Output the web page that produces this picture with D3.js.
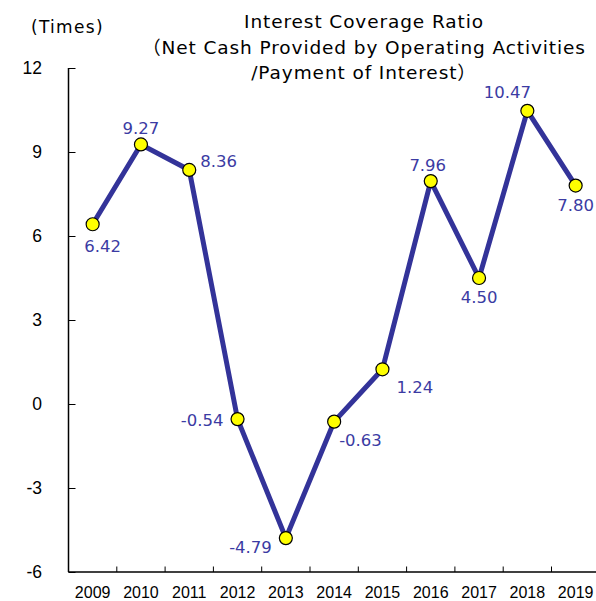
<!DOCTYPE html>
<html>
<head>
<meta charset="utf-8">
<script src="https://cdnjs.cloudflare.com/ajax/libs/d3/7.8.5/d3.min.js"></script>
<style>
body { margin:0; background:#fff; }
</style>
</head>
<body>
<div id="chart"></div>
<script>
(function(){
var width = 596,
	height = 601,
	margin = {top:68, bottom:29, left:68.5, right:-3.8};

var years = ["2009","2010","2011","2012","2013","2014","2015","2016","2017","2018","2019"];
var ratio = [6.42, 9.27, 8.36, -0.54, -4.79, -0.63, 1.24, 7.96, 4.50, 10.47, 7.80];
var yTicks = [-6, -3, 0, 3, 6, 9, 12];
var titleLines = ["Interest Coverage Ratio", "（Net Cash Provided by Operating Activities", "/Payment of Interest）"];
var unitLabel = "(Times)";

// where each value label sits relative to its point
var place = {
	"2009": [10, 28, "middle"],
	"2010": [0, -10.5, "middle"],
	"2011": [11, -2.5, "start"],
	"2012": [-14, 6.5, "end"],
	"2013": [-14, 15, "end"],
	"2014": [5, 24, "start"],
	"2015": [14, 24, "start"],
	"2016": [-3, -10, "middle"],
	"2017": [0, 24.5, "middle"],
	"2018": [-20, -13, "middle"],
	"2019": [0, 25, "middle"]
};

var lineColor = "#333399",
	labelColor = "#3b3ba3";

var data = years.map(function(y,i){ return {year:y, value:ratio[i]}; });

var X = d3.scaleBand().domain(years).range([margin.left, width - margin.right]);
var Y = d3.scaleLinear().domain([-6,12]).range([height - margin.bottom, margin.top]);
var fmt = function(v){ return d3.format(".2f")(v).replace("\u2212", "-"); };

var svg = d3.select("#chart").append("svg")
	.attr("width", width)
	.attr("height", height);

// title
svg.append("text")
	.attr("font-family", "DejaVu Sans, Noto Sans CJK JP, sans-serif")
	.attr("font-size", 18.5)
	.attr("letter-spacing", 0.9)
	.attr("text-anchor", "middle")
	.attr("fill", "#000")
	.selectAll("tspan").data(titleLines).enter().append("tspan")
	.attr("x", 364)
	.attr("y", function(d,i){ return 28 + i*25.5; })
	.text(function(d){ return d; });

svg.append("text")
	.attr("x", 31).attr("y", 33)
	.attr("font-family", "DejaVu Sans, sans-serif")
	.attr("font-size", 17)
	.attr("letter-spacing", 1.3)
	.attr("fill", "#000")
	.text(unitLabel);

// y axis
var yAxis = d3.axisRight(Y).tickValues(yTicks).tickSize(7).tickFormat("");
var gy = svg.append("g").attr("transform", "translate(" + margin.left + ",0)").call(yAxis);
gy.select(".domain").attr("d", "M0," + Y(12) + "V" + Y(-6)).attr("stroke", "#000").attr("stroke-width", 1.5);
gy.selectAll(".tick line").attr("stroke", "#000").attr("stroke-width", 1);

svg.selectAll(".ylab").data(yTicks).enter().append("text")
	.attr("class", "ylab")
	.attr("x", 42)
	.attr("y", function(d){ return Y(d); })
	.attr("dy", "0.36em")
	.attr("text-anchor", "end")
	.attr("font-family", "Liberation Sans, Arial, sans-serif")
	.attr("font-size", 17.5)
	.attr("fill", "#000")
	.text(function(d){ return d; });

// x axis
var base = Y(-6);
svg.append("line")
	.attr("x1", margin.left).attr("x2", width)
	.attr("y1", base).attr("y2", base)
	.attr("stroke", "#000").attr("stroke-width", 1.5);

svg.selectAll(".xtick").data(years.slice(1)).enter().append("line")
	.attr("class", "xtick")
	.attr("x1", function(d){ return X(d); })
	.attr("x2", function(d){ return X(d); })
	.attr("y1", base).attr("y2", base - 5.5)
	.attr("stroke", "#000").attr("stroke-width", 1);

svg.selectAll(".xlab").data(years).enter().append("text")
	.attr("class", "xlab")
	.attr("x", function(d){ return X(d) + X.bandwidth()/2; })
	.attr("y", 598)
	.attr("text-anchor", "middle")
	.attr("font-family", "Liberation Sans, Arial, sans-serif")
	.attr("font-size", 16)
	.attr("fill", "#000")
	.text(function(d){ return d; });

// series
var cx = function(d){ return X(d.year) + X.bandwidth()/2; };

svg.append("path")
	.datum(data)
	.attr("d", d3.line().x(cx).y(function(d){ return Y(d.value); }))
	.attr("fill", "none")
	.attr("stroke", lineColor)
	.attr("stroke-width", 5)
	.attr("stroke-linejoin", "miter");

svg.selectAll(".pt").data(data).enter().append("circle")
	.attr("class", "pt")
	.attr("cx", cx)
	.attr("cy", function(d){ return Y(d.value); })
	.attr("r", 6.5)
	.attr("fill", "#ffff00")
	.attr("stroke", "#000")
	.attr("stroke-width", 1.2);

svg.selectAll(".vlab").data(data).enter().append("text")
	.attr("class", "vlab")
	.attr("x", function(d){ return cx(d) + place[d.year][0]; })
	.attr("y", function(d){ return Y(d.value) + place[d.year][1]; })
	.attr("text-anchor", function(d){ return place[d.year][2]; })
	.attr("font-family", "DejaVu Sans, sans-serif")
	.attr("font-size", 16.5)
	.attr("fill", labelColor)
	.text(function(d){ return fmt(d.value); });
})()
</script>
</body>
</html>
